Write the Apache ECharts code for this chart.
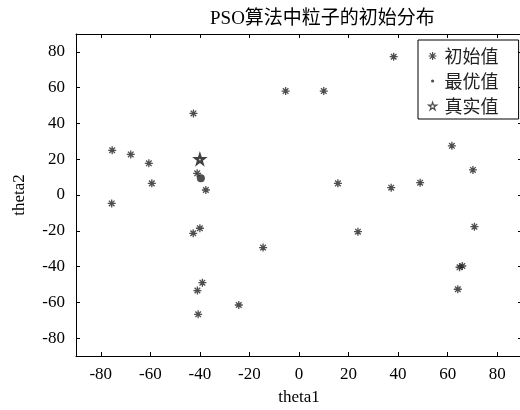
<!DOCTYPE html>
<html>
<head>
<meta charset="utf-8">
<script src="https://cdn.jsdelivr.net/npm/echarts@6/dist/echarts.min.js"></script>
<style>
  html, body { margin: 0; padding: 0; background: #fff; }
  #chart { width: 520px; height: 410px; }
</style>
</head>
<body>
<div id="chart"></div>
<script>
// Initial particle positions (theta1, theta2)
const initialPoints = [
  [-5.4, 58.1], [-42.6, 45.6], [-75.4, 25.0], [-67.9, 22.7], [-60.6, 17.7],
  [-59.4, 6.5], [-41.1, 12.1], [-37.6, 2.8],
  [38.2, 77.3], [10.0, 58.1], [61.7, 27.5], [70.2, 14.0], [15.7, 6.5],
  [37.2, 4.1], [48.9, 6.9],
  [-75.6, -4.7], [-40.0, -18.6], [-42.7, -21.4], [-14.5, -29.4], [-39.0, -49.0],
  [-41.0, -53.4], [-24.3, -61.5], [-40.7, -66.7],
  [23.8, -20.5], [70.8, -17.7], [64.8, -40.4], [65.9, -39.7], [64.1, -52.7]
];
// Best particle found and the true parameter value
const bestPoint = [[-39.6, 9.3]];
const truePoint = [[-40, 20]];

const xTicks = [-80, -60, -40, -20, 0, 20, 40, 60, 80];
const yTicks = [-80, -60, -40, -20, 0, 20, 40, 60, 80];
const axisRange = [-90, 90];

const seriesNames = ['初始值', '最优值', '真实值'];
const titleText = 'PSO算法中粒子的初始分布';

const serif = "'Liberation Serif', 'Times New Roman', 'Noto Sans CJK SC', serif";
const ink = '#222';

const asteriskPath = 'path://M0,-50L0,50M-50,0L50,0M-35,-35L35,35M-35,35L35,-35';
const starPath = 'path://M0,-100L22.5,-30.9L95.1,-30.9L36.3,11.8L58.8,80.9L0,38.2L-58.8,80.9L-36.3,11.8L-95.1,-30.9L-22.5,-30.9Z';
// small dot padded with move-to points so the legend icon stays small
const smallDotPath = 'path://M-50,-50M50,50M-20,0A20,20 0 1 0 20,0A20,20 0 1 0 -20,0Z';

function axisCommon(showLabels) {
  return {
    type: 'value',
    min: axisRange[0],
    max: axisRange[1],
    axisLine: { show: true, onZero: false, lineStyle: { color: '#000', width: 1 } },
    axisTick: { show: true, inside: true, length: 4, lineStyle: { color: '#000' } },
    splitLine: { show: false },
    axisLabel: { show: showLabels }
  };
}

const chart = echarts.init(document.getElementById('chart'), null, { renderer: 'canvas' });

chart.setOption({
  backgroundColor: '#fff',
  animation: false,
  title: {
    text: titleText,
    left: 210,
    top: 10,
    padding: 0,
    textStyle: { fontFamily: serif, fontSize: 19, fontWeight: 'normal', color: '#000' }
  },
  grid: { left: 76, top: 34, width: 446, height: 322, containLabel: false, outerBoundsMode: 'none' },
  xAxis: [
    Object.assign(axisCommon(true), {
      position: 'bottom',
      name: 'theta1',
      nameLocation: 'middle',
      nameGap: 33,
      nameTextStyle: { fontFamily: serif, fontSize: 17, color: '#000' },
      axisTick: { show: true, inside: true, length: 4, lineStyle: { color: '#000' }, customValues: xTicks },
      axisLabel: { show: true, margin: 10, fontFamily: serif, fontSize: 17, color: '#000', customValues: xTicks }
    }),
    Object.assign(axisCommon(false), {
      position: 'top',
      axisTick: { show: true, inside: true, length: 4, lineStyle: { color: '#000' }, customValues: xTicks },
      axisLabel: { show: false, customValues: xTicks }
    })
  ],
  yAxis: [
    Object.assign(axisCommon(true), {
      position: 'left',
      name: 'theta2',
      nameLocation: 'middle',
      nameGap: 48,
      nameTextStyle: { fontFamily: serif, fontSize: 17, color: '#000' },
      axisTick: { show: true, inside: true, length: 4, lineStyle: { color: '#000' }, customValues: yTicks },
      axisLabel: { show: true, margin: 11, fontFamily: serif, fontSize: 17, color: '#000', customValues: yTicks }
    }),
    Object.assign(axisCommon(false), {
      position: 'right',
      axisLine: { show: true, onZero: false, lineStyle: { color: '#000', width: 1 } },
      axisTick: { show: true, inside: true, length: 4, lineStyle: { color: '#000' }, customValues: yTicks },
      axisLabel: { show: false, customValues: yTicks }
    })
  ],
  legend: {
    orient: 'vertical',
    left: 418,
    top: 40,
    padding: [6, 20, 3, 10],
    itemGap: 5,
    itemWidth: 8,
    itemHeight: 8,
    backgroundColor: '#fff',
    borderColor: '#000',
    borderWidth: 1,
    borderRadius: 0,
    textStyle: {
      fontFamily: "'Noto Sans CJK SC', sans-serif",
      fontSize: 18,
      lineHeight: 20,
      color: '#222',
      padding: [0, 0, 0, 3]
    },
    data: [
      { name: seriesNames[0], icon: asteriskPath, itemStyle: { color: 'transparent', borderColor: ink, borderWidth: 1.2 } },
      { name: seriesNames[1], icon: smallDotPath, itemStyle: { color: ink, borderWidth: 0 } },
      { name: seriesNames[2], icon: starPath, itemStyle: { color: 'transparent', borderColor: ink, borderWidth: 1.2 } }
    ]
  },
  series: [
    {
      name: seriesNames[0],
      type: 'scatter',
      data: initialPoints,
      symbol: asteriskPath,
      symbolSize: 8,
      itemStyle: { color: 'transparent', borderColor: ink, borderWidth: 1.3 },
      z: 2
    },
    {
      name: seriesNames[1],
      type: 'scatter',
      data: bestPoint,
      symbol: 'circle',
      symbolSize: 8,
      itemStyle: { color: ink, borderWidth: 0 },
      z: 3
    },
    {
      name: seriesNames[2],
      type: 'scatter',
      data: truePoint,
      symbol: starPath,
      symbolSize: 9,
      itemStyle: { color: 'transparent', borderColor: '#111', borderWidth: 2.2 },
      z: 3
    }
  ]
});
</script>
</body>
</html>
